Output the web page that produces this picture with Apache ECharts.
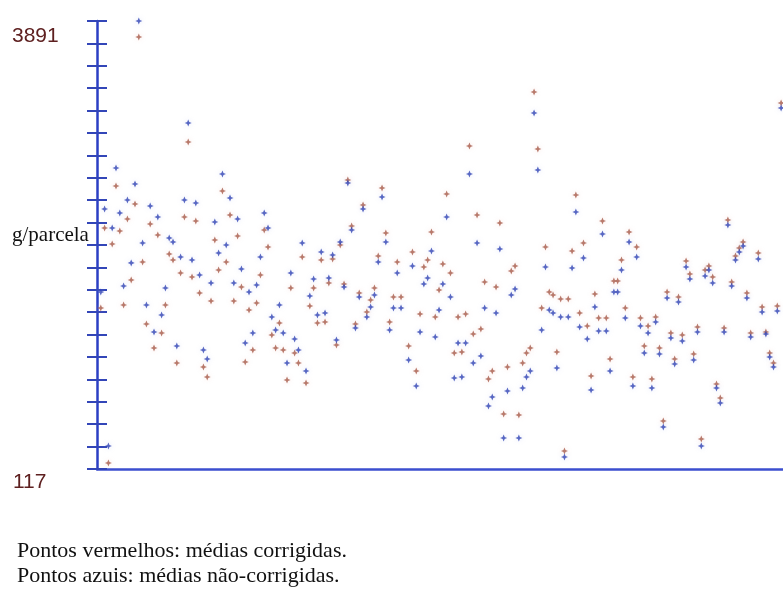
<!DOCTYPE html>
<html>
<head>
<meta charset="utf-8">
<script src="https://cdn.jsdelivr.net/npm/echarts@6/dist/echarts.min.js"></script>
<style>
html,body{margin:0;padding:0;background:#fff;}
#c{width:783px;height:594px;}
</style>
</head>
<body>
<div id="c"></div>
<script>
// Tratamento (posição ao longo do eixo horizontal)
const trat = [1,2,3,4,5,6,7,8,9,10,11,12,13,14,15,16,17,18,19,20,
21,22,23,24,25,26,27,28,29,30,31,32,33,34,35,36,37,38,39,40,
41,42,43,44,45,46,47,48,49,50,51,52,53,54,55,56,57,58,59,60,
61,62,63,64,65,66,67,68,69,70,71,72,73,74,75,76,77,78,79,80,
82,83,84,85,86,87,88,89,90,91,92,93,94,95,96,97,98,99,100,101,
102,103,104,105,106,107,108,109,110,111,112,113,114,115,116,117,118,119,120,121,
122,123,124,125,126,127,128,129,130,131,132,133,134,135,136,137,138,139,140,141,
142,143,144,145,146,147,148,149,150,151,152,153,154,155,156,157,158,159,160,161,
162,163,164,165,166,167,168,169,170,171,172,174,175,176,177,178,179,180];

// Médias não-corrigidas (pontos azuis), g/parcela
const naoCorrigidas = [1608,2307,311,2147,2653,2274,1659,2383,1853,2518,3891,2021,1499,2333,1271,2240,1414,1642,2063,2029,
1153,1903,2383,3032,1878,2358,1751,1120,1044,1684,2198,1937,2602,2004,2400,1684,2223,1802,1179,1608,
1263,1667,1903,2274,2147,1398,1288,1499,1263,1010,1768,1212,1120,2021,943,1575,1718,1414,1945,1431,
1726,1920,1204,2029,1650,2526,2130,1305,1566,2307,1398,1482,1583,1861,2408,2029,1288,1473,1768,1473,
1035,1827,816,1271,1676,1726,1954,1229,1457,1676,2240,1566,884,1179,892,1179,2602,1010,2021,1069,
1473,648,724,1431,1970,378,774,1583,1633,378,799,892,943,3116,2636,1288,1819,1457,1431,968,
1398,218,1398,1810,2282,1313,1895,1212,783,1482,1280,2097,1280,943,1608,1608,1793,1389,2029,816,
1903,1322,1094,1263,799,1355,1086,471,1558,1221,1002,1524,1195,1819,1718,1035,1271,311,1743,1793,
1684,799,673,1271,2173,1659,1878,1945,1996,1558,1229,1886,1440,1254,1061,976,1448,3158];

// Médias corrigidas (pontos vermelhos), g/parcela
const corrigidas = [1473,2147,168,2013,2501,2122,1499,2223,1709,2350,3756,1861,1339,2181,1136,2088,1263,1499,1928,1878,
1010,1768,2240,2872,1735,2206,1600,976,892,1532,2046,1793,2459,1861,2257,1532,2080,1650,1018,1457,
1120,1516,1751,2130,1987,1246,1136,1347,1120,867,1642,1094,1010,1903,842,1490,1642,1347,1878,1355,
1684,1886,1162,2004,1676,2552,2164,1339,1600,2341,1440,1541,1642,1911,2484,2105,1355,1566,1861,1566,
1153,1945,943,1423,1819,1878,2114,1398,1625,1844,2434,1768,1094,1398,1103,1423,2838,1254,2257,1296,
1692,875,943,1650,2189,580,976,1785,1827,572,1010,1094,1136,3293,2813,1473,1987,1608,1583,1103,
1549,269,1549,1954,2425,1431,2021,1322,901,1591,1389,2206,1389,1044,1701,1701,1878,1473,2114,892,
1987,1389,1153,1322,875,1398,1136,521,1608,1263,1044,1566,1246,1869,1760,1086,1313,370,1793,1827,
1735,833,715,1305,2215,1692,1911,1979,2029,1600,1263,1937,1482,1271,1094,1010,1490,3200];

const yMin = 117, yMax = 3891;
const tickCount = 20;

const star = 'path://M0,-4 L1.2,-1.2 L4,0 L1.2,1.2 L0,4 L-1.2,1.2 L-4,0 L-1.2,-1.2 Z';

const chart = echarts.init(document.getElementById('c'), null, {renderer:'canvas'});
chart.setOption({
  backgroundColor:'#ffffff',
  animation:false,
  grid:{left:97, top:21, width:686, height:448, outerBoundsMode:'none'},
  xAxis:{type:'value', min:0, max:180.5,
    axisLine:{show:true, onZero:false, lineStyle:{color:'#3c4fcf', width:2.5}},
    axisTick:{show:false}, axisLabel:{show:false}, splitLine:{show:false}},
  yAxis:[
    {type:'value', min:yMin, max:yMax, show:false, splitLine:{show:false}},
    {type:'value', min:0, max:tickCount, interval:1, position:'left',
      axisLine:{show:true, onZero:false, lineStyle:{color:'#2b3fc4', width:2.5}},
      axisTick:{show:true, inside:true, length:10, lineStyle:{color:'#3346b8', width:2}},
      axisLabel:{show:false}, splitLine:{show:false}},
    {type:'value', min:0, max:tickCount, interval:1, position:'left',
      axisLine:{show:false},
      axisTick:{show:true, inside:false, length:10, lineStyle:{color:'#3346b8', width:2}},
      axisLabel:{show:false}, splitLine:{show:false}}
  ],
  series:[
    {type:'scatter', name:'corrigidas', yAxisIndex:0, symbol:star, symbolSize:7,
      itemStyle:{color:'#a65a48', shadowBlur:5, shadowColor:'rgba(235,170,160,0.45)'},
      data: trat.map((t,i)=>[t, corrigidas[i]])},
    {type:'scatter', name:'naoCorrigidas', yAxisIndex:0, symbol:star, symbolSize:7,
      itemStyle:{color:'#2f42b4', shadowBlur:5, shadowColor:'rgba(160,175,235,0.45)'},
      data: trat.map((t,i)=>[t, naoCorrigidas[i]])}
  ],
  graphic:[
    {type:'text', left:12, top:26, style:{text:String(yMax), font:'21px "Liberation Sans", Arial, sans-serif', fill:'#5e2020'}},
    {type:'text', left:13, top:472, style:{text:String(yMin), font:'21px "Liberation Sans", Arial, sans-serif', fill:'#5e2020'}},
    {type:'text', left:12, top:225, style:{text:'g/parcela', font:'21px "Liberation Serif", "Times New Roman", serif', fill:'#111111'}},
    {type:'text', left:17, top:540, style:{text:'Pontos vermelhos: médias corrigidas.', font:'22px "Liberation Serif", "Times New Roman", serif', fill:'#111111'}},
    {type:'text', left:17, top:565, style:{text:'Pontos azuis: médias não-corrigidas.', font:'22px "Liberation Serif", "Times New Roman", serif', fill:'#111111'}}
  ]
});
</script>
</body>
</html>
